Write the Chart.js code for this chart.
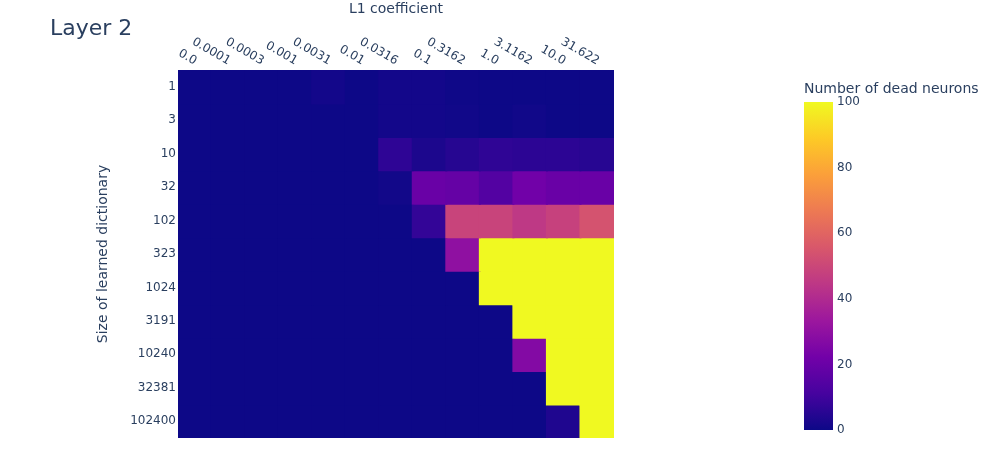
<!DOCTYPE html>
<html>
<head>
<meta charset="utf-8">
<script src="https://cdn.jsdelivr.net/npm/chart.js@4.4.1/dist/chart.umd.min.js"></script>
<style>
  html, body { margin: 0; padding: 0; background: #fff; }
  #wrap { position: relative; width: 1000px; height: 450px; }
  #main { position: absolute; left: 0; top: 0; }
  #cbar { position: absolute; left: 780px; top: 75px; }
</style>
</head>
<body>
<div id="wrap">
  <canvas id="main" width="1000" height="450"></canvas>
  <canvas id="cbar" width="210" height="375"></canvas>
</div>
<script>
// ═══ data ═══
const l1Coefficients = ['0.0', '0.0001', '0.0003', '0.001', '0.0031', '0.01', '0.0316',
    '0.1', '0.3162', '1.0', '3.1162', '10.0', '31.622'];
const dictSizes = ['1', '3', '10', '32', '102', '323', '1024', '3191', '10240', '32381', '102400'];
// dead neurons per (dictionary size, L1 coefficient)
const deadNeurons = [
    [0, 0, 0, 0, 1.2, 0, 1.2, 1.2, 0.3, 0, 0, 0, 0],
    [0, 0, 0, 0, 0, 0, 1.2, 1.2, 0.8, 0, 0.8, 0, 0],
    [0, 0, 0, 0, 0, 0, 6.4, 3, 4.8, 6.6, 6, 6, 5],
    [0, 0, 0, 0, 0, 0, 1, 20, 19, 14.5, 22, 20, 20],
    [0, 0, 0, 0, 0, 0, 0, 7.4, 49, 49, 45, 48, 54],
    [0, 0, 0, 0, 0, 0, 0, 0, 30, 100, 100, 100, 100],
    [0, 0, 0, 0, 0, 0, 0, 0, 0, 100, 100, 100, 100],
    [0, 0, 0, 0, 0, 0, 0, 0, 0, 0, 100, 100, 100],
    [0, 0, 0, 0, 0, 0, 0, 0, 0, 0, 26.7, 100, 100],
    [0, 0, 0, 0, 0, 0, 0, 0, 0, 0, 0, 100, 100],
    [0, 0, 0, 0, 0, 0, 0, 0, 0, 0, 0, 3.5, 100]
];
const colorbarTicks = [0, 20, 40, 60, 80, 100];

const TEXT = '#2a3f5f';
const FONT = '"DejaVu Sans", Verdana, sans-serif';
const PLASMA = ['#0d0887', '#46039f', '#7201a8', '#9c179e', '#bd3786',
    '#d8576b', '#ed7953', '#fb9f3a', '#fdca26', '#f0f921'];

function hexRgb(h) {
    return [parseInt(h.slice(1, 3), 16), parseInt(h.slice(3, 5), 16), parseInt(h.slice(5, 7), 16)];
}

function plasma(v) {
    const t = Math.max(0, Math.min(1, v / 100)) * (PLASMA.length - 1);
    const i = Math.min(Math.floor(t), PLASMA.length - 2);
    const f = t - i;
    const a = hexRgb(PLASMA[i]), b = hexRgb(PLASMA[i + 1]);
    const c = a.map((x, k) => Math.round(x + (b[k] - x) * f));
    return 'rgb(' + c.join(',') + ')';
}

// one floating-bar dataset per row, each bar spans one row band
const rowDatasets = dictSizes.map((size, r) => ({
    label: size,
    data: l1Coefficients.map(() => [r - 0.5, r + 0.5]),
    backgroundColor: deadNeurons[r].map(plasma),
    borderWidth: 0,
    inflateAmount: 1,
    barPercentage: 1,
    categoryPercentage: 1,
    grouped: false
}));

const textPlugin = {
    id: 'heatText',
    afterDraw(chart) {
        const ctx = chart.ctx;
        const area = chart.chartArea;
        const xs = chart.scales.x;
        ctx.save();
        ctx.fillStyle = TEXT;

        // title
        ctx.font = '22px ' + FONT;
        ctx.textAlign = 'left';
        ctx.textBaseline = 'alphabetic';
        ctx.fillText('Layer 2', 50, 35);

        // x axis title
        ctx.font = '14px ' + FONT;
        ctx.textAlign = 'center';
        ctx.textBaseline = 'middle';
        ctx.fillText('L1 coefficient', (area.left + area.right) / 2, 9);

        // y axis title
        ctx.save();
        ctx.translate(103, (area.top + area.bottom) / 2);
        ctx.rotate(-Math.PI / 2);
        ctx.fillText('Size of learned dictionary', 0, 0);
        ctx.restore();

        // x tick labels, rotated 30deg clockwise, ending at the tick
        ctx.font = '12px ' + FONT;
        ctx.textAlign = 'right';
        ctx.textBaseline = 'middle';
        l1Coefficients.forEach((lab, i) => {
            const px = xs.getPixelForTick(i);
            ctx.save();
            ctx.translate(px + 1, 62);
            ctx.rotate(Math.PI / 6);
            ctx.fillText(lab, 0, 0);
            ctx.restore();
        });
        ctx.restore();
    }
};

new Chart(document.getElementById('main'), {
    type: 'bar',
    data: { labels: l1Coefficients, datasets: rowDatasets },
    options: {
        responsive: false,
        animation: false,
        layout: { padding: { left: 0, right: 386, top: 70, bottom: 12 } },
        plugins: { legend: { display: false }, tooltip: { enabled: false } },
        scales: {
            x: {
                type: 'category',
                position: 'top',
                grid: { display: false, drawTicks: false },
                border: { display: false },
                ticks: { display: false },
                afterFit: (s) => { s.height = 0; }
            },
            y: {
                type: 'linear',
                min: -0.5,
                max: dictSizes.length - 0.5,
                reverse: true,
                grid: { display: false, drawTicks: false },
                border: { display: false },
                afterBuildTicks: (s) => { s.ticks = dictSizes.map((_, i) => ({ value: i })); },
                afterFit: (s) => { s.width = 178; },
                ticks: {
                    padding: 2,
                    color: TEXT,
                    font: { family: FONT, size: 12 },
                    callback: (v) => dictSizes[v]
                }
            }
        }
    },
    plugins: [textPlugin]
});

// ═══ colour bar ═══
const cbarTitle = {
    id: 'cbarTitle',
    afterDraw(chart) {
        const ctx = chart.ctx;
        ctx.save();
        ctx.fillStyle = TEXT;
        ctx.font = '14px ' + FONT;
        ctx.textAlign = 'left';
        ctx.textBaseline = 'middle';
        ctx.fillText('Number of dead neurons', 24, 14);
        ctx.restore();
    }
};

new Chart(document.getElementById('cbar'), {
    type: 'bar',
    data: {
        labels: ['cb'],
        datasets: [{
            data: [[colorbarTicks[0], colorbarTicks[colorbarTicks.length - 1]]],
            borderWidth: 0,
            barPercentage: 1,
            categoryPercentage: 1,
            backgroundColor: (c) => {
                const a = c.chart.chartArea;
                if (!a) return PLASMA[0];
                const g = c.chart.ctx.createLinearGradient(0, a.bottom, 0, a.top);
                PLASMA.forEach((col, i) => g.addColorStop(i / (PLASMA.length - 1), col));
                return g;
            }
        }]
    },
    options: {
        responsive: false,
        animation: false,
        layout: { padding: { left: 24, right: 0, top: 27, bottom: 20 } },
        plugins: { legend: { display: false }, tooltip: { enabled: false } },
        scales: {
            x: { display: false },
            y: {
                position: 'right',
                min: 0,
                max: 100,
                grid: { display: false, drawTicks: false },
                border: { display: false },
                afterBuildTicks: (s) => { s.ticks = colorbarTicks.map(v => ({ value: v })); },
                afterFit: (s) => { s.width = 210 - 24 - 29; },
                ticks: {
                    padding: 4,
                    color: TEXT,
                    font: { family: FONT, size: 12 }
                }
            }
        }
    },
    plugins: [cbarTitle]
});
</script>
</body>
</html>
